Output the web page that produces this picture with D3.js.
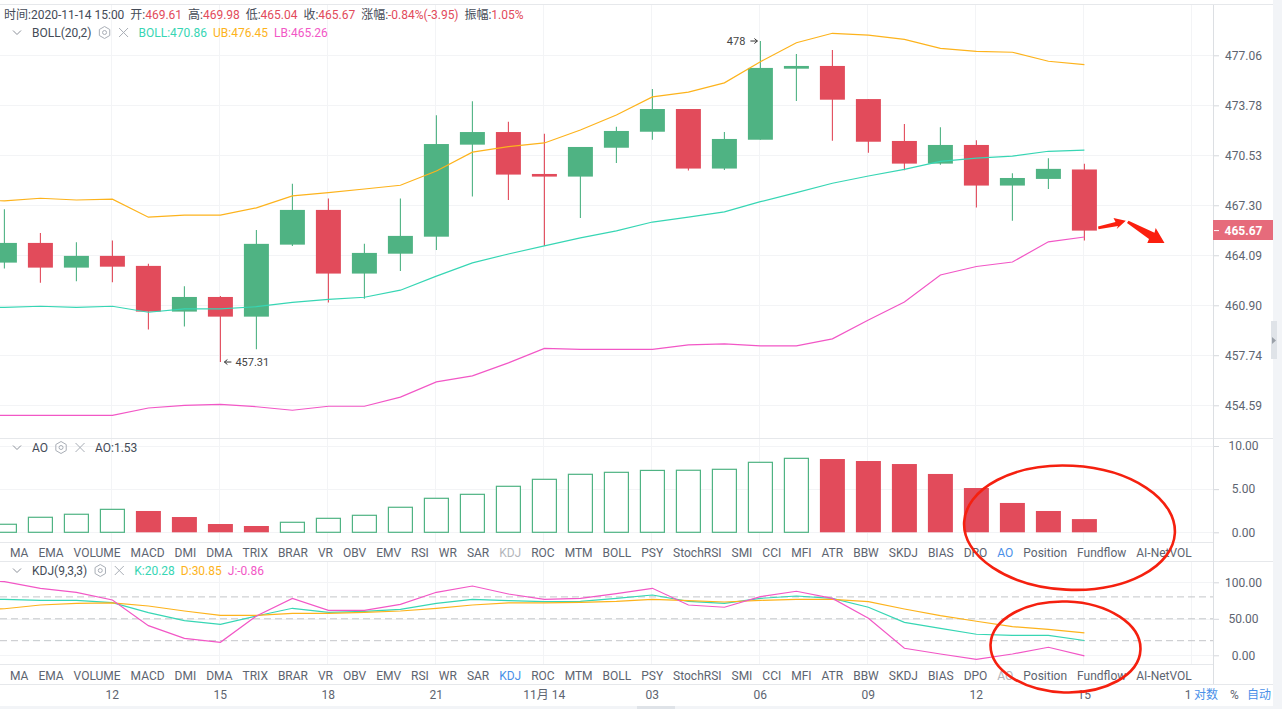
<!DOCTYPE html>
<html>
<head>
<meta charset="utf-8">
<script src="https://cdn.jsdelivr.net/npm/d3@7"></script>
<style>
  html, body { margin: 0; padding: 0; background: #fff; overflow: hidden; }
  svg { display: block; font-family: Roboto, "Noto Sans CJK SC", sans-serif; font-size: 12px; }
</style>
</head>
<body>
<svg id="chart" width="1282" height="709"></svg>
<script>
// candles, oldest first
const open = [463.62, 464.88, 463.30, 464.05, 463.41, 460.50, 461.43, 460.18, 464.77, 467.00, 462.92, 464.19, 465.28, 471.22, 472.04, 469.32, 469.15, 471.02, 472.06, 473.54, 469.67, 471.54, 476.18, 476.36, 474.19, 471.46, 469.99, 471.20, 468.57, 469.00, 469.61]
const close = [464.88, 463.30, 464.05, 463.36, 460.50, 461.43, 460.18, 464.82, 467.00, 462.92, 464.24, 465.33, 471.26, 472.04, 469.28, 469.15, 471.07, 472.11, 473.54, 469.67, 471.59, 476.23, 476.36, 474.15, 471.41, 469.99, 471.20, 468.57, 469.06, 469.65, 465.67]
const high = [467.04, 465.52, 464.92, 465.03, 463.55, 462.11, 461.49, 465.71, 468.68, 467.73, 464.82, 467.73, 473.13, 474.04, 472.71, 471.93, 471.07, 472.39, 474.85, 473.54, 472.04, 478.00, 477.15, 477.41, 474.19, 472.56, 472.36, 471.51, 469.37, 470.34, 469.98]
const low = [463.24, 462.34, 462.43, 462.37, 459.36, 459.55, 457.31, 458.12, 464.69, 461.07, 461.32, 463.09, 464.43, 467.86, 467.64, 464.69, 466.48, 470.03, 471.54, 469.54, 469.58, 471.54, 474.06, 471.48, 470.70, 469.56, 469.92, 467.15, 466.31, 468.35, 465.04]

// bollinger bands, first value is the bar just left of the window
const ub = [467.66, 467.58, 467.75, 467.64, 467.69, 466.53, 466.66, 466.66, 467.13, 467.90, 468.11, 468.35, 468.59, 469.51, 470.73, 471.09, 471.33, 472.17, 473.15, 474.33, 474.64, 475.25, 476.64, 477.89, 478.51, 478.39, 478.11, 477.52, 477.32, 477.26, 476.67, 476.45]
const mb = [460.74, 460.77, 460.84, 460.77, 460.84, 460.46, 460.67, 460.67, 460.81, 461.09, 461.28, 461.41, 461.86, 462.76, 463.60, 464.17, 464.69, 465.20, 465.65, 466.22, 466.54, 466.87, 467.53, 468.11, 468.72, 469.19, 469.62, 470.14, 470.35, 470.48, 470.79, 470.86]
const lb = [453.96, 453.96, 453.96, 453.96, 453.96, 454.42, 454.59, 454.65, 454.50, 454.28, 454.53, 454.53, 455.10, 456.06, 456.44, 457.26, 458.17, 458.11, 458.11, 458.11, 458.39, 458.45, 458.33, 458.33, 458.77, 459.97, 461.11, 462.83, 463.37, 463.66, 464.95, 465.26]

const ao = [0.93, 1.74, 2.09, 2.66, 2.47, 1.77, 0.96, 0.73, 1.16, 1.62, 1.97, 2.90, 3.94, 4.40, 5.33, 6.14, 6.72, 6.95, 7.17, 7.19, 7.30, 8.11, 8.57, 8.49, 8.26, 7.91, 6.76, 5.13, 3.40, 2.47, 1.53]

// kdj, first value is the bar just left of the window
const kLine = [77.0, 76.7, 75.3, 75.3, 72.1, 58.4, 47.4, 42.5, 53.8, 64.4, 58.9, 60.3, 63.0, 71.2, 76.7, 74.9, 73.5, 74.0, 78.0, 82.6, 74.0, 71.2, 78.0, 81.2, 78.0, 65.8, 45.2, 37.0, 28.8, 27.4, 27.4, 20.28]
const dLine = [61.5, 63.8, 68.9, 71.2, 71.7, 67.5, 60.7, 54.8, 54.8, 57.5, 57.5, 58.9, 60.7, 64.4, 68.9, 71.7, 71.7, 72.6, 74.0, 76.7, 74.9, 73.0, 75.3, 76.7, 76.7, 73.5, 63.4, 54.3, 46.6, 39.2, 35.6, 30.85]
const jLine = [103.0, 100.8, 91.8, 86.3, 75.8, 40.6, 23.3, 17.8, 53.8, 78.0, 61.6, 61.6, 69.8, 86.3, 94.9, 84.0, 76.7, 78.0, 84.4, 91.8, 68.9, 65.8, 80.3, 87.7, 78.0, 50.7, 9.6, 1.8, -5.5, 1.8, 11.0, -0.86]

const priceTicks = [477.06, 473.78, 470.53, 467.30, 464.09, 460.90, 457.74, 454.59]
const aoTicks = [10, 5, 0]
const kdjTicks = [100, 50, 0]
const kdjLevels = [80, 50, 20]
const timeIndex = [3, 6, 9, 12, 15, 18, 21, 24, 27, 30, 33]
const timeLabels = ['12', '15', '18', '21', '11月 14', '03', '06', '09', '12', '15', '1']
const tabs = ['MA', 'EMA', 'VOLUME', 'MACD', 'DMI', 'DMA', 'TRIX', 'BRAR', 'VR', 'OBV', 'EMV', 'RSI', 'WR', 'SAR', 'KDJ', 'ROC', 'MTM', 'BOLL', 'PSY', 'StochRSI', 'SMI', 'CCI', 'MFI', 'ATR', 'BBW', 'SKDJ', 'BIAS', 'DPO', 'AO', 'Position', 'Fundflow', 'AI-NetVOL']
const quote = [['时间:', '2020-11-14 15:00', true], ['开:', '469.61'], ['高:', '469.98'], ['低:', '465.04'], ['收:', '465.67'], ['涨幅:', '-0.84%(-3.95)'], ['振幅:', '1.05%']]

const GREEN = '#4fb383'
const RED = '#e24b5b'
const TEAL = '#37d6b4'
const ORANGE = '#fdb31c'
const PINK = '#f257c6'
const GRID = '#f3f4f6'
const EDGE = '#e6e8eb'
const TEXT = '#5d6470'
const BLUE = '#4a90e8'
const axisX = 1214
const plotRight = 1273

const svg = d3.select('#chart')

// 1] scales
const x = d3.scaleLinear().domain([0, 33]).range([4.4, 4.4 + 36 * 33])
const yPrice = d3.scaleLog().domain([454.59, 477.06]).range([405.3, 55.3])
const yAo = d3.scaleLinear().domain([0, 10]).range([532.3, 446])
const yKdj = d3.scaleLinear().domain([0, 100]).range([655.3, 582.3])

const grid = svg.append('g').attr('shape-rendering', 'crispEdges')

// vertical grid, one block per panel
const panels = [[5, 438], [438, 542], [561, 664]]
panels.forEach(([top, bottom]) => {
    grid.append('g').selectAll('line').data(timeIndex).join('line')
        .attr('x1', d => Math.round(x(d)) - 0.5)
        .attr('x2', d => Math.round(x(d)) - 0.5)
        .attr('y1', top).attr('y2', bottom)
        .attr('stroke', GRID)
})

// horizontal grid
const hGrid = (vals, scale) => {
    grid.append('g').selectAll('line').data(vals).join('line')
        .attr('x1', 0).attr('x2', axisX)
        .attr('y1', d => Math.round(scale(d)) + 0.5)
        .attr('y2', d => Math.round(scale(d)) + 0.5)
        .attr('stroke', GRID)
}
hGrid(priceTicks, yPrice)
hGrid(aoTicks, yAo)
hGrid(kdjTicks, yKdj)

// panel edges
const edges = [[4, plotRight], [438, plotRight], [542, axisX], [561, plotRight], [664, axisX], [684, plotRight]]
grid.append('g').selectAll('line').data(edges).join('line')
    .attr('x1', 0).attr('x2', d => d[1])
    .attr('y1', d => d[0] + 0.5).attr('y2', d => d[0] + 0.5)
    .attr('stroke', EDGE)

// 2] candles
const candles = svg.append('g').selectAll('g').data(d3.range(open.length)).join('g')
    .attr('fill', i => close[i] > open[i] ? GREEN : RED)
    .attr('stroke', i => close[i] > open[i] ? GREEN : RED)
candles.append('line')
    .attr('x1', i => x(i)).attr('x2', i => x(i))
    .attr('y1', i => yPrice(high[i])).attr('y2', i => yPrice(low[i]))
    .attr('stroke-width', 1.1)
candles.append('rect')
    .attr('x', i => x(i) - 12.5)
    .attr('width', 25)
    .attr('y', i => yPrice(Math.max(open[i], close[i])))
    .attr('height', i => Math.abs(yPrice(open[i]) - yPrice(close[i])))
    .attr('stroke', 'none')

// 3] indicator lines
const drawLine = (values, scale, color) => {
    const line = d3.line().x((d, i) => x(i - 1)).y(d => scale(d))
    svg.append('path')
        .attr('d', line(values))
        .attr('fill', 'none')
        .attr('stroke', color)
        .attr('stroke-width', 1.2)
}
drawLine(ub, yPrice, ORANGE)
drawLine(mb, yPrice, TEAL)
drawLine(lb, yPrice, PINK)

// 4] AO bars, rising ones are hollow
svg.append('g').selectAll('rect').data(ao).join('rect')
    .attr('x', (d, i) => x(i) - (ao[i] > (ao[i - 1] || 0) ? 12 : 12.5))
    .attr('width', (d, i) => ao[i] > (ao[i - 1] || 0) ? 24 : 25)
    .attr('y', d => yAo(d))
    .attr('height', d => yAo(0) - yAo(d))
    .attr('fill', (d, i) => ao[i] > (ao[i - 1] || 0) ? '#fff' : RED)
    .attr('stroke', (d, i) => ao[i] > (ao[i - 1] || 0) ? GREEN : 'none')
    .attr('stroke-width', 1.2)

// 5] KDJ
svg.append('g').selectAll('line').data(kdjLevels).join('line')
    .attr('x1', 0).attr('x2', axisX)
    .attr('y1', d => yKdj(d)).attr('y2', d => yKdj(d))
    .attr('stroke', '#c4c6c9')
    .attr('stroke-dasharray', '7 4')
drawLine(kLine, yKdj, TEAL)
drawLine(dLine, yKdj, ORANGE)
drawLine(jLine, yKdj, PINK)

// 6] high and low notes
const hi = high.indexOf(d3.max(high))
const lo = low.indexOf(d3.min(low))
const noteArrow = (x1, x2, y) => {
    const dir = x2 > x1 ? -1 : 1
    svg.append('path')
        .attr('d', `M${x1},${y}H${x2}m${dir * 3},-2.5l${-dir * 3},2.5l${dir * 3},2.5`)
        .attr('fill', 'none').attr('stroke', '#333').attr('stroke-width', 1)
}
svg.append('text').attr('x', x(hi) - 15).attr('y', yPrice(high[hi]) + 4)
    .attr('text-anchor', 'end').attr('font-size', 11).attr('fill', '#444').text('478')
noteArrow(x(hi) - 10, x(hi) - 3, yPrice(high[hi]))
svg.append('text').attr('x', x(lo) + 15).attr('y', yPrice(low[lo]) + 4)
    .attr('font-size', 11).attr('fill', '#444').text(low[lo])
noteArrow(x(lo) + 11, x(lo) + 4, yPrice(low[lo]))

// 7] axes
const rightAxis = (scale, ticks, fmt) => {
    const g = svg.append('g').attr('transform', `translate(${axisX},0)`)
        .call(d3.axisRight(scale).tickValues(ticks).tickFormat(fmt).tickSize(5))
    g.select('.domain').remove()
    g.selectAll('line').attr('stroke', '#d5d8dc')
    g.selectAll('text')
        .attr('x', 29.5).attr('text-anchor', 'middle')
        .attr('fill', TEXT).attr('font-size', 12)
        .attr('font-family', 'Roboto, sans-serif')
}
const fixed2 = d3.format('.2f')
rightAxis(yPrice, priceTicks, fixed2)
rightAxis(yAo, aoTicks, fixed2)
rightAxis(yKdj, kdjTicks, fixed2)

svg.append('line').attr('x1', axisX - 0.5).attr('x2', axisX - 0.5).attr('y1', 5).attr('y2', 684)
    .attr('stroke', '#dcdfe3').attr('shape-rendering', 'crispEdges')

const timeAxis = svg.append('g').attr('transform', 'translate(-0.7,684)')
    .call(d3.axisBottom(x).tickValues(timeIndex).tickFormat((d, i) => timeLabels[i]).tickSize(0).tickPadding(6))
timeAxis.select('.domain').remove()
timeAxis.selectAll('text').attr('fill', TEXT).attr('font-size', 12)
    .attr('font-family', 'Roboto, "Noto Sans CJK SC", sans-serif')
// the last label sits against the scale buttons and only its first digit shows
timeAxis.selectAll('text').filter((d, i) => i === timeIndex.length - 1).attr('dx', -4)

// last price tag
const lastY = yPrice(close[close.length - 1])
const tagY = Math.round(lastY) - 11
svg.append('rect').attr('x', axisX - 1).attr('y', tagY).attr('width', plotRight - axisX + 1).attr('height', 20)
    .attr('fill', '#e66b7b')
svg.append('line').attr('x1', axisX).attr('x2', axisX + 5).attr('y1', lastY).attr('y2', lastY).attr('stroke', '#fff')
svg.append('text').attr('x', axisX + 29.5).attr('y', lastY + 4)
    .attr('text-anchor', 'middle').attr('fill', '#fff').attr('font-weight', 700)
    .text(fixed2(close[close.length - 1]))

// 8] tab rows, laid out one after another
const drawTabs = (baseY, active, muted) => {
    let cursor = 10
    tabs.forEach(name => {
        const t = svg.append('text').attr('x', cursor).attr('y', baseY).text(name)
            .attr('fill', name === active ? BLUE : name === muted ? '#b3b6bb' : TEXT)
        cursor += t.node().getComputedTextLength() + 9.97
    })
}
drawTabs(556.5, 'AO', 'KDJ')
drawTabs(679.5, 'KDJ', 'AO')

// 9] legends
const legend = (y, title, items) => {
    svg.append('path').attr('d', `M13,${y - 2}l4,4l4,-4`).attr('fill', 'none').attr('stroke', '#8b9099')
    const t = svg.append('text').attr('x', 32).attr('y', y + 4.5).attr('fill', '#444b57').text(title)
    const end = 32 + t.node().getComputedTextLength()
    const hx = end + 13
    svg.append('path')
        .attr('d', `M${hx},${y - 6}l5.2,3v6l-5.2,3l-5.2,-3v-6z`)
        .attr('fill', 'none').attr('stroke', '#a9aeb6')
    svg.append('circle').attr('cx', hx).attr('cy', y).attr('r', 2)
        .attr('fill', 'none').attr('stroke', '#a9aeb6')
    const cx = end + 32
    svg.append('path').attr('d', `M${cx - 4.5},${y - 4.5}l9,9m0,-9l-9,9`)
        .attr('fill', 'none').attr('stroke', '#a9aeb6')
    let cursor = end + 47
    items.forEach(([label, color]) => {
        const item = svg.append('text').attr('x', cursor).attr('y', y + 4.5).attr('fill', color).text(label)
        cursor += item.node().getComputedTextLength() + 6
    })
}
legend(32.5, 'BOLL(20,2)', [['BOLL:470.86', TEAL], ['UB:476.45', ORANGE], ['LB:465.26', PINK]])
legend(447.5, 'AO', [['AO:1.53', '#444b57']])
legend(570.5, 'KDJ(9,3,3)', [['K:20.28', TEAL], ['D:30.85', ORANGE], ['J:-0.86', PINK]])

// quote line
let qx = 4
quote.forEach(([label, value, plain]) => {
    const t = svg.append('text').attr('x', qx).attr('y', 19).attr('fill', '#444b57')
    t.append('tspan').text(label)
    t.append('tspan').attr('fill', plain ? '#444b57' : RED).text(value)
    qx += t.node().getComputedTextLength() + 5.9
})

// 10] bottom right buttons
svg.append('text').attr('x', 1194).attr('y', 699).attr('fill', BLUE).text('对数')
svg.append('text').attr('x', 1230).attr('y', 699).attr('fill', TEXT).text('%')
svg.append('text').attr('x', 1247).attr('y', 699).attr('fill', BLUE).text('自动')

// page edges and drag handles
svg.append('rect').attr('x', 0).attr('y', 706).attr('width', 1282).attr('height', 3).attr('fill', '#f2f4f7')
svg.append('rect').attr('x', plotRight).attr('y', 0).attr('width', 9).attr('height', 709).attr('fill', '#f2f4f7')
svg.append('rect').attr('x', 637).attr('y', 706).attr('width', 38).attr('height', 3).attr('fill', '#dfe3e8')
svg.append('rect').attr('x', 1271).attr('y', 321).attr('width', 6).attr('height', 38).attr('fill', '#dfe3e8')
svg.append('path').attr('d', 'M1272,337l4,3.5l-4,3.5z').attr('fill', '#9aa0a8')

// 11] hand drawn red marks on top of the screenshot
svg.append('ellipse').attr('cx', 1069.5).attr('cy', 527.7).attr('rx', 105.5).attr('ry', 62)
    .attr('transform', 'rotate(3 1069.5 527.7)')
    .attr('fill', 'none').attr('stroke', '#f5200f').attr('stroke-width', 2.6)
svg.append('ellipse').attr('cx', 1065.5).attr('cy', 647).attr('rx', 75).attr('ry', 45.5)
    .attr('transform', 'rotate(2 1065.5 647)')
    .attr('fill', 'none').attr('stroke', '#f5200f').attr('stroke-width', 2.6)
svg.append('path')
    .attr('d', 'M1098,226.5L1115.5,222L1113.5,218L1125.8,220.7L1116.7,229L1118,226L1098.5,229.2Z')
    .attr('fill', '#fb1f0e')
svg.append('path')
    .attr('d', 'M1128.5,220.8L1154.5,232.8L1155.7,228L1164.5,243L1147.3,243L1149,239L1127,223Z')
    .attr('fill', '#fb1f0e')
</script>
</body>
</html>
